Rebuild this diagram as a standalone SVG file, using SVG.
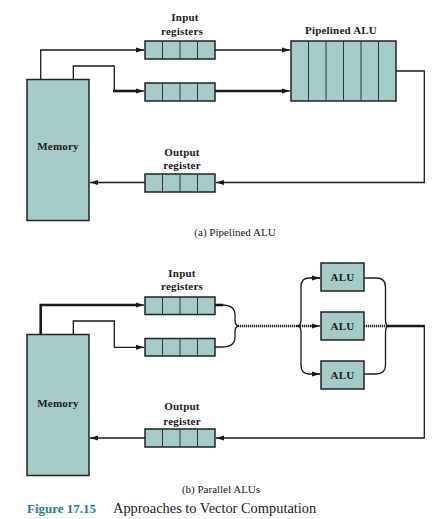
<svg xmlns="http://www.w3.org/2000/svg" width="441" height="519" viewBox="0 0 441 519">
<style>
.box{fill:#a5cbc9;stroke:#222;stroke-width:1.5}
.div{stroke:#333;stroke-width:1}
.ln{fill:none;stroke:#1a1a1a;stroke-width:1.3}
.thk{fill:none;stroke:#1a1a1a;stroke-width:2.6}
.dot{fill:none;stroke:#1a1a1a;stroke-width:2.6;stroke-dasharray:1.2 0.8}
.lbl{font-family:"Liberation Serif",serif;font-weight:bold;font-size:11px;fill:#1a1a1a;text-anchor:middle;letter-spacing:0.2px}
.cap{font-family:"Liberation Serif",serif;font-size:11px;fill:#1a1a1a;text-anchor:middle}
</style>
<defs>
<marker id="ah" markerUnits="userSpaceOnUse" markerWidth="9" markerHeight="6" refX="8" refY="3" orient="auto">
<path d="M0,0.5 L8,3 L0,5.5 Z" fill="#1a1a1a"/>
</marker>
</defs>
<rect width="441" height="519" fill="#fff"/>

<!-- (a) Pipelined ALU -->
<g id="a-memory"><rect class="box" x="27" y="79.5" width="62" height="141"/><text class="lbl" x="58" y="149.5">Memory</text></g>
<g id="a-inreg1"><rect class="box" x="145" y="41" width="70" height="18"/><path class="div" d="M162.5,41V59M180,41V59M197.5,41V59"/></g>
<g id="a-inreg2"><rect class="box" x="145" y="83" width="70" height="18"/><path class="div" d="M162.5,83V101M180,83V101M197.5,83V101"/></g>
<g id="a-inlabel"><text class="lbl" x="185" y="20.5">Input</text><text class="lbl" x="182" y="34.5">registers</text></g>
<g id="a-alu"><rect class="box" x="291" y="41" width="105" height="60"/><path class="div" d="M308.5,41V101M326,41V101M343.5,41V101M361,41V101M378.5,41V101"/><text class="lbl" x="341" y="33.5">Pipelined ALU</text></g>
<g id="a-outreg"><rect class="box" x="145" y="174" width="70" height="18"/><path class="div" d="M162.5,174V192M180,174V192M197.5,174V192"/><text class="lbl" x="182" y="155.5">Output</text><text class="lbl" x="182" y="169">register</text></g>
<g id="a-connectors">
<path class="ln" d="M40.7,79.5V50H144" marker-end="url(#ah)"/>
<path class="ln" d="M73.3,79.5V66H114.3V91"/>
<path class="thk" d="M113,91H138"/>
<path class="ln" d="M136,91H144" marker-end="url(#ah)"/>
<path class="ln" d="M215,50H290" marker-end="url(#ah)"/>
<path class="thk" d="M215,91H282"/>
<path class="ln" d="M280,91H290" marker-end="url(#ah)"/>
<path class="ln" d="M396,71H424.3V182.5H216" marker-end="url(#ah)"/>
<path class="ln" d="M145,182.5H90" marker-end="url(#ah)"/>
</g>
<text class="cap" x="235" y="236">(a) Pipelined ALU</text>

<!-- (b) Parallel ALUs -->
<g id="b-memory"><rect class="box" x="27" y="334.5" width="62" height="141"/><text class="lbl" x="58" y="406.5">Memory</text></g>
<g id="b-inreg1"><rect class="box" x="145" y="297" width="70" height="17.5"/><path class="div" d="M162.5,297V314.5M180,297V314.5M197.5,297V314.5"/></g>
<g id="b-inreg2"><rect class="box" x="145" y="338.5" width="70" height="17.5"/><path class="div" d="M162.5,338.5V356M180,338.5V356M197.5,338.5V356"/></g>
<g id="b-inlabel"><text class="lbl" x="182" y="276.5">Input</text><text class="lbl" x="182" y="290">registers</text></g>
<g id="b-alu1"><rect class="box" x="321" y="263" width="43" height="28"/><text class="lbl" x="342.5" y="281">ALU</text></g>
<g id="b-alu2"><rect class="box" x="321" y="312" width="43" height="28"/><text class="lbl" x="342.5" y="330">ALU</text></g>
<g id="b-alu3"><rect class="box" x="321" y="361" width="43" height="28"/><text class="lbl" x="342.5" y="379">ALU</text></g>
<g id="b-outreg"><rect class="box" x="145" y="429" width="70" height="18"/><path class="div" d="M162.5,429V447M180,429V447M197.5,429V447"/><text class="lbl" x="182" y="410">Output</text><text class="lbl" x="182" y="424.5">register</text></g>
<g id="b-connectors">
<path class="thk" d="M40.7,334.5V305H138"/>
<path class="ln" d="M136,305H144" marker-end="url(#ah)"/>
<path class="ln" d="M73.3,334.5V321H114.3V347.3H144" marker-end="url(#ah)"/>
<path class="thk" d="M215,305H223"/>
<path class="ln" d="M222,305Q235,305 235,315V320Q235,326 239,326"/>
<path class="ln" d="M215,347H222Q235,347 235,337V332Q235,326 239,326"/>
<path class="dot" d="M238,326H312"/>
<path class="ln" d="M310,326H320" marker-end="url(#ah)"/>
<path class="ln" d="M320,278H309Q301,278 301,287V320Q301,326 297,326Q301,326 301,332V365Q301,374 309,374H320" marker-end="url(#ah)"/>
<path class="ln" d="M311,278H320" marker-end="url(#ah)"/>
<path class="ln" d="M364,278H376Q385.5,278 385.5,287V320Q385.5,326 389,326Q385.5,326 385.5,332V365Q385.5,374 376,374H364"/>
<path class="dot" d="M364,326H389"/>
<path class="thk" d="M388,326H424.3"/>
<path class="ln" d="M424.3,325V438H216" marker-end="url(#ah)"/>
<path class="ln" d="M145,438H90" marker-end="url(#ah)"/>
</g>
<text class="cap" x="221" y="493">(b) Parallel ALUs</text>
<g id="caption"><text x="27" y="513" font-family="'Liberation Serif',serif" font-weight="bold" font-size="13" fill="#1f7f8c">Figure 17.15</text><text x="113" y="513" font-family="'Liberation Serif',serif" font-size="14.4" fill="#1a1a1a">Approaches to Vector Computation</text></g>
</svg>
